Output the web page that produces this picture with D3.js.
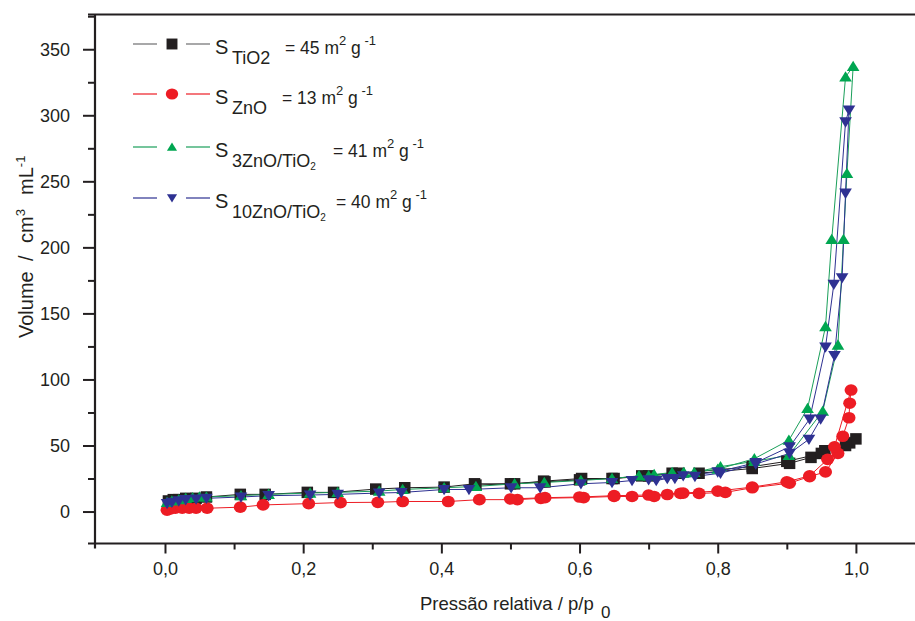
<!DOCTYPE html>
<html>
<head>
<meta charset="utf-8">
<script src="https://cdn.jsdelivr.net/npm/d3@7"></script>
<style>
  body { margin: 0; background: #fff; }
  text { font-family: "Liberation Sans", Arial, sans-serif; fill: #231f20; }
</style>
</head>
<body>
<svg id="chart" width="915" height="621"></svg>
<script>
// isotherm data, [p/p0, volume]
var tio2Ads = [[0.005,8],[0.012,9],[0.02,9],[0.03,10],[0.045,10],[0.06,11],[0.109,13],[0.145,13],[0.206,14.5],[0.244,14.5],[0.305,17],[0.347,18],[0.404,18.5],[0.448,21],[0.506,21],[0.548,23],[0.603,25],[0.647,25],[0.69,27],[0.734,29],[0.773,29],[0.85,32.6],[0.904,36.5],[0.935,41],[0.955,46],[0.991,52],[1.0,55]];
var tio2Des = [[1.0,55],[0.985,50],[0.95,44],[0.9,38],[0.85,34],[0.744,29],[0.7,27],[0.65,25],[0.6,24],[0.55,22.5],[0.5,21],[0.45,20]];
var znoAds = [[0.003,1],[0.008,2],[0.015,2.5],[0.025,2.5],[0.035,2.5],[0.045,2.5],[0.061,2.5],[0.109,3.3],[0.142,5],[0.208,6],[0.254,6.8],[0.308,7],[0.344,7.6],[0.41,7.6],[0.455,9],[0.51,9],[0.544,10],[0.606,10.6],[0.65,11.4],[0.676,11.4],[0.708,11.4],[0.727,12.9],[0.746,13.7],[0.773,13.7],[0.811,14.5],[0.85,18],[0.904,21.5],[0.933,26.5],[0.956,30],[0.974,44],[0.981,57],[0.99,71],[0.991,82],[0.993,92]];
var znoDes = [[0.993,92],[0.969,49],[0.959,39.5],[0.933,27],[0.9,22.5],[0.85,18.5],[0.8,15.5],[0.75,14],[0.7,12.5],[0.65,12],[0.6,11],[0.55,10.5],[0.5,9.5]];
var zt3Ads = [[0.003,7],[0.01,8],[0.02,9],[0.03,10],[0.04,10.5],[0.05,11],[0.06,11],[0.11,12],[0.15,13],[0.21,14],[0.25,14.5],[0.31,15.5],[0.344,16.7],[0.404,18],[0.45,19],[0.506,21],[0.549,22],[0.602,23.5],[0.647,25],[0.686,27],[0.708,28],[0.734,29.6],[0.751,29.6],[0.766,29.6],[0.804,34],[0.853,38],[0.903,42.5],[0.952,76],[0.974,126],[0.982,206],[0.987,256],[0.996,337]];
var zt3Des = [[0.996,337],[0.985,329],[0.965,206],[0.956,140],[0.93,78],[0.903,54],[0.853,40],[0.8,32],[0.75,29],[0.7,27]];
var zt10Ads = [[0.003,6],[0.01,7],[0.02,8],[0.03,9],[0.045,9.5],[0.06,10],[0.11,11],[0.15,12],[0.21,12.5],[0.25,13],[0.31,14],[0.342,14.4],[0.404,16.7],[0.44,16.7],[0.501,18],[0.543,18],[0.602,21],[0.647,22],[0.676,23.5],[0.711,23.5],[0.727,25],[0.738,25],[0.767,26.6],[0.804,29],[0.855,36],[0.904,44],[0.932,54.7],[0.949,70],[0.969,118],[0.98,177],[0.985,241],[0.99,304]];
var zt10Des = [[0.99,304],[0.985,295],[0.968,172],[0.956,124.5],[0.933,70],[0.904,49],[0.855,37],[0.8,30],[0.75,27],[0.7,24]];

var yMajor = [0, 50, 100, 150, 200, 250, 300, 350];
var yMinor = [25, 75, 125, 175, 225, 275, 325, 375];
var xMajor = [0.0, 0.2, 0.4, 0.6, 0.8, 1.0];
var xMinor = [0.1, 0.3, 0.5, 0.7, 0.9];

var series = [
    { ads: tio2Ads, des: tio2Des, line: "#231f20", fill: "#231f20", legLine: "#6d6e70", shape: "square",
      sub: "TiO2", sub2: "", value: "= 45", valueX: 285 },
    { ads: znoAds, des: znoDes, line: "#ed1c24", fill: "#ed1c24", legLine: "#ed1c24", shape: "circle",
      sub: "ZnO", sub2: "", value: "= 13", valueX: 282 },
    { ads: zt3Ads, des: zt3Des, line: "#1a9f5a", fill: "#00a651", legLine: "#1a9f5a", shape: "up",
      sub: "3ZnO/TiO", sub2: "2", value: "= 41", valueX: 333 },
    { ads: zt10Ads, des: zt10Des, line: "#2e3192", fill: "#2e3192", legLine: "#2e3192", shape: "down",
      sub: "10ZnO/TiO", sub2: "2", value: "= 40", valueX: 336 }
];

var svg = d3.select("#chart");
var plotL = 95, plotR = 925, plotT = 14.5, plotB = 543.5;

var x = d3.scaleLinear().domain([-0.1013, 1.1]).range([plotL, plotR]);
var y = d3.scaleLinear().domain([-24.2, 376.3]).range([plotB, plotT]);

function markerPath(shape, s) {
    var h = s / 2;
    if (shape == "square") return "M" + (-h) + "," + (-h) + "h" + s + "v" + s + "h" + (-s) + "Z";
    if (shape == "circle") return "M" + (-h) + ",0a" + h + "," + (h * 0.9) + " 0 1,0 " + s + ",0a" + h + "," + (h * 0.9) + " 0 1,0 " + (-s) + ",0Z";
    if (shape == "up") return "M0," + (-h) + "L" + (h * 1.1) + "," + (h * 0.8) + "L" + (-h * 1.1) + "," + (h * 0.8) + "Z";
    return "M0," + h + "L" + (h * 1.1) + "," + (-h * 0.8) + "L" + (-h * 1.1) + "," + (-h * 0.8) + "Z";
}
var markerSize = { square: 11.5, circle: 13, up: 11.5, down: 11.5 };

var line = d3.line()
    .x(function (d) { return x(d[0]); })
    .y(function (d) { return y(d[1]); });

// lines
var plot = svg.append("g");
series.forEach(function (s) {
    [s.ads, s.des].forEach(function (branch) {
        plot.append("path")
            .attr("d", line(branch))
            .attr("fill", "none")
            .attr("stroke", s.line)
            .attr("stroke-width", 1);
    });
});
// markers
series.forEach(function (s) {
    plot.append("g")
        .selectAll("path")
        .data(s.ads.concat(s.des.slice(1)))
        .enter().append("path")
        .attr("d", markerPath(s.shape, markerSize[s.shape]))
        .attr("transform", function (d) { return "translate(" + x(d[0]) + "," + y(d[1]) + ")"; })
        .attr("fill", s.fill);
});

// axes
svg.append("g")
    .attr("transform", "translate(" + plotL + ",0)")
    .call(d3.axisLeft(y).tickValues(yMajor).tickSize(12).tickPadding(13).tickFormat(d3.format("d")));
svg.append("g")
    .attr("transform", "translate(" + plotL + ",0)")
    .call(d3.axisLeft(y).tickValues(yMinor).tickSize(7).tickFormat(""));

svg.append("g")
    .attr("transform", "translate(0," + plotB + ")")
    .call(d3.axisBottom(x).tickValues(xMajor).tickSize(10).tickPadding(9)
        .tickFormat(function (d) { return d3.format(".1f")(d).replace(".", ","); }));
svg.append("g")
    .attr("transform", "translate(0," + plotB + ")")
    .call(d3.axisBottom(x).tickValues(xMinor).tickSize(6).tickFormat(""));

svg.selectAll(".domain").remove();
svg.selectAll(".tick line").attr("stroke", "#231f20").attr("stroke-width", 2);
svg.selectAll(".tick text").style("font-size", "18px").attr("fill", "#231f20");

// frame lines
svg.append("line").attr("x1", plotL).attr("x2", plotL).attr("y1", plotT).attr("y2", plotB + 5)
    .attr("stroke", "#231f20").attr("stroke-width", 2.2);
svg.append("line").attr("x1", plotL - 7).attr("x2", 915).attr("y1", plotB).attr("y2", plotB)
    .attr("stroke", "#231f20").attr("stroke-width", 2.2);
svg.append("line").attr("x1", plotL - 7).attr("x2", 915).attr("y1", plotT).attr("y2", plotT)
    .attr("stroke", "#231f20").attr("stroke-width", 2.2);

// axis titles
var yt = svg.append("text")
    .attr("transform", "translate(33,338) rotate(-90)")
    .style("font-size", "20px");
yt.append("tspan").attr("x", 0).text("Volume");
yt.append("tspan").attr("x", 77).text("/");
yt.append("tspan").attr("x", 95).text("cm");
yt.append("tspan").attr("dy", -8).style("font-size", "13px").text("3");
yt.append("tspan").attr("x", 143).attr("dy", 8).text("mL");
yt.append("tspan").attr("dy", -8).style("font-size", "13px").text("-1");

var xt = svg.append("text")
    .attr("x", 420).attr("y", 610)
    .style("font-size", "18.5px");
xt.append("tspan").text("Pressão relativa / p/p");
xt.append("tspan").attr("x", 601).attr("dy", 8).style("font-size", "17px").text("0");

// legend
series.forEach(function (s, i) {
    var cy = [44, 94, 147, 198][i];
    var g = svg.append("g");
    g.append("line").attr("x1", 133).attr("x2", 157).attr("y1", cy).attr("y2", cy)
        .attr("stroke", s.legLine).attr("stroke-width", 1.2);
    g.append("line").attr("x1", 186).attr("x2", 210).attr("y1", cy).attr("y2", cy)
        .attr("stroke", s.legLine).attr("stroke-width", 1.2);
    g.append("path").attr("d", markerPath(s.shape, markerSize[s.shape] * (s.shape == "up" || s.shape == "down" ? 0.8 : 0.95)))
        .attr("transform", "translate(172," + cy + ")")
        .attr("fill", s.fill);

    var base = cy + 10;
    var t = g.append("text").attr("x", 215).attr("y", base).style("font-size", "20px");
    t.append("tspan").text("S");
    t.append("tspan").attr("x", 232).attr("dy", 10).style("font-size", "18px").text(s.sub);
    if (s.sub2) t.append("tspan").attr("dy", 3).style("font-size", "10px").text(s.sub2);

    var v = g.append("text").attr("x", s.valueX).attr("y", base).style("font-size", "17.5px");
    v.append("tspan").text(s.value + " m");
    v.append("tspan").attr("dy", -9).style("font-size", "13px").text("2");
    v.append("tspan").attr("dy", 9).text(" g");
    v.append("tspan").attr("dy", -9).style("font-size", "13px").text(" -1");
});
</script>
</body>
</html>
